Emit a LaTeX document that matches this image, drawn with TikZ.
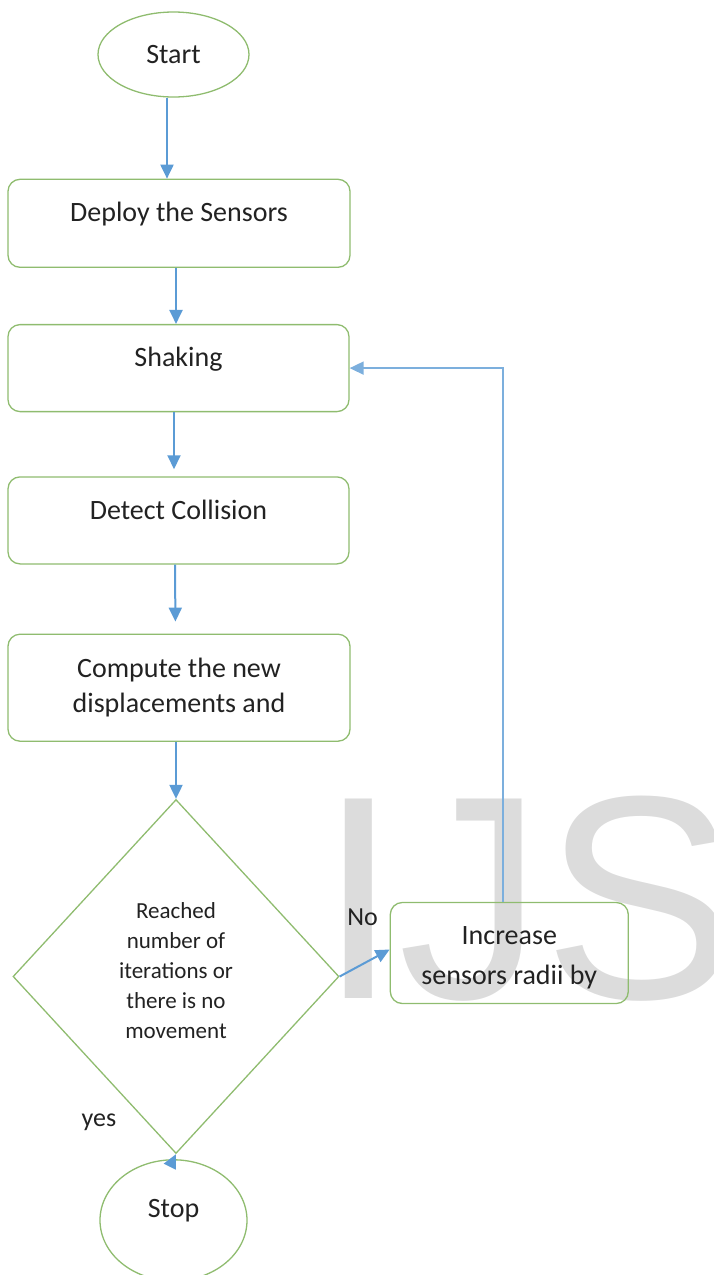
\documentclass[tikz,border=0pt]{standalone}
\usepackage{fontspec}
\setmainfont{Carlito}
\newfontfamily\wmfont{Liberation Sans}
\usepackage{tikz}
\usetikzlibrary{calc,shapes.geometric,arrows.meta,positioning}
\definecolor{sblue}{HTML}{5B9BD5}
\definecolor{sgreen}{HTML}{8FBC6F}
\definecolor{sgray}{HTML}{DCDCDC}
\definecolor{stext}{HTML}{222222}

\begin{document}
\begin{tikzpicture}[x=1pt,y=-1pt,
    RIR/.style={draw=sgreen,line width=1.3pt,rectangle,rounded corners=12pt,inner sep=0pt,text=stext,font=\fontsize{28}{35}\selectfont},
    TERM/.style={draw=sgreen,line width=1.3pt,ellipse,inner sep=0pt,text=stext,font=\fontsize{28}{32}\selectfont},
    DEC/.style={draw=sgreen,line width=1.3pt,diamond,inner sep=0pt,align=center,text=stext,font=\fontsize{23}{30}\selectfont},
    LBL/.style={inner sep=0pt,text=stext,font=\fontsize{26}{26}\selectfont},
    AR/.style={->,line width=2pt,draw=sblue,>={Triangle[length=14pt,width=13pt]}}]
        \useasboundingbox (0,0) rectangle (714,1275);
        % WATERMARK (BEHIND EVERYTHING)
        \node[anchor=base west,inner sep=0pt,text=sgray,font=\wmfont\fontsize{290}{290}\selectfont] (wm) at (318,998) {IJS};
        % START TERMINAL
        \node[TERM,minimum width=151pt,minimum height=85pt] (start) at (173.5,54.5) {Start};
        % Deploy the sensors
        \node[RIR,anchor=north] (deploy) at ($(start.south)+(5.5,81)$) {\parbox[c][88pt][t]{342pt}{\centering\rule{0pt}{42pt}Deploy the Sensors}};
        % Shaking step
        \node[RIR,anchor=north] (shaking) at ($(deploy.south)+(-0.5,56)$) {\parbox[c][87pt][t]{341pt}{\centering\rule{0pt}{42pt}Shaking}};
        % Collision detection
        \node[RIR,anchor=north] (detect) at ($(shaking.south)+(0,64)$) {\parbox[c][87pt][t]{341pt}{\centering\rule{0pt}{43pt}Detect Collision}};
        % New displacements
        \node[RIR,anchor=north] (compute) at ($(detect.south)+(0.5,69)$) {\parbox[c][107pt][t]{342pt}{\centering\rule{0pt}{43pt}Compute the new\\displacements and}};
        % DECISION
        \node[DEC,anchor=north,minimum width=326pt,minimum height=354pt] (dec) at ($(compute.south)+(-3,57)$) {Reached\\number of\\iterations or\\there is no\\movement\rule[-12pt]{0pt}{0pt}};
        % STOP TERMINAL
        \node[TERM,anchor=north,minimum width=147pt,minimum height=121pt,text height=14pt,text depth=20pt] (stop) at ($(dec.south)+(-2.5,5)$) {Stop};
        % Increase the radii (NO branch)
        \node[RIR,anchor=west,font=\fontsize{28}{40}\selectfont] (inc) at ($(dec.east)+(50,-23.5)$) {\parbox[c][101pt][t]{238pt}{\centering\rule{0pt}{42pt}Increase\\sensors radii by}};
        % BRANCH LABELS
        \node[LBL] (no) at ($(dec.east)+(23,-59)$) {No};
        \node[LBL] (yes) at ($(dec.south)+(-77,-32)$) {yes};
        % ARROWS
        \draw[AR] ($(start.south)+(-6.5,0)$) -- ($(deploy.north)+(-12,0)$);
        \draw[AR] ($(deploy.south)+(-3,0)$) -- ($(shaking.north)+(-2.5,0)$);
        \draw[AR,shorten >=7pt] ($(shaking.south)+(-4.5,0)$) -- ($(detect.north)+(-4.5,0)$);
        \draw[AR,shorten >=12pt] ($(detect.south)+(-3.5,0)$) -- ($(compute.north)+(-3.5,0)$);
        \draw[AR] ($(compute.south)+(-3,0)$) -- (dec.north);
        % NO TO INCREASE
        \draw[AR] (dec.east) -- ($(inc.west)+(0,-3.5)$);
        % BACK TO SHAKING
        \draw[AR,line width=1.8pt,draw=sblue!80] ($(inc.north)+(-6,0)$) |- (shaking.east);
        % YES TO STOP
        \draw[AR] (stop.north) -- (dec.south);
\end{tikzpicture}
\end{document}
